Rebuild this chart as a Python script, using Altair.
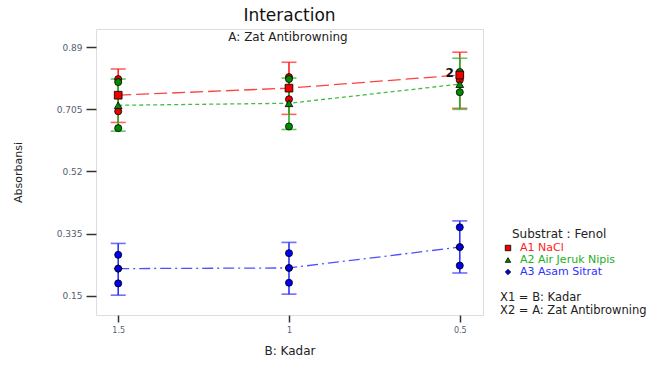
import altair as alt
import pandas as pd

levels = [1.5, 1.0, 0.5]
level_labels = ["1.5", "1", "0.5"]
series = ["A1 NaCl", "A2 Air Jeruk Nipis", "A3 Asam Sitrat"]

nacl_mean = [0.747, 0.768, 0.807]
nacl_lo = [0.666, 0.690, 0.708]
nacl_hi = [0.825, 0.845, 0.875]
nacl_obs = [[0.795, 0.699], [0.801, 0.735], [0.804, 0.792]]

jeruk_mean = [0.717, 0.723, 0.780]
jeruk_lo = [0.640, 0.645, 0.705]
jeruk_hi = [0.795, 0.798, 0.857]
jeruk_obs = [[0.786, 0.649], [0.795, 0.654], [0.816, 0.756]]

asam_mean = [0.231, 0.233, 0.295]
asam_lo = [0.152, 0.155, 0.218]
asam_hi = [0.306, 0.309, 0.373]
asam_obs = [[0.272, 0.231, 0.187], [0.277, 0.233, 0.189], [0.354, 0.295, 0.240]]

y_ticks = [0.15, 0.335, 0.52, 0.705, 0.89]

FONT = "DejaVu Sans"
line_colors = ["#FF2020", "#22B022", "#3030FF"]
fill_colors = ["#EE0000", "#008A00", "#0000EE"]
dashes = [[13, 5], [4, 3], [11, 4, 2, 4]]
mean_shapes = ["square", "triangle-up", "diamond"]

W, H = 387, 286
xs = alt.Scale(domain=[0.432, 1.565], reverse=True, nice=False, zero=False)
ys = alt.Scale(domain=[0.093, 0.944], nice=False, zero=False)

all_means = [nacl_mean, jeruk_mean, asam_mean]
all_lo = [nacl_lo, jeruk_lo, asam_lo]
all_hi = [nacl_hi, jeruk_hi, asam_hi]
all_obs = [nacl_obs, jeruk_obs, asam_obs]

x_axis = alt.Axis(values=levels, labelExpr="datum.value == 1 ? '1' : format(datum.value, '.1f')",
                  title="B: Kadar", titleFont=FONT, titleFontSize=12, titleFontWeight="normal",
                  titleColor="#222222", titlePadding=11, labelFont=FONT, labelFontSize=8,
                  labelColor="#556070", tickSize=7, tickColor="#333333", tickWidth=1.5,
                  domain=False, grid=False, labelPadding=4)
y_axis = alt.Axis(values=y_ticks, labelExpr="datum.value == 0.15 ? '0.15' : datum.value == 0.52 ? '0.52' : datum.value == 0.89 ? '0.89' : format(datum.value, '.3f')",
                  title="Absorbansi", titleFont=FONT, titleFontSize=11, titleFontWeight="normal",
                  titleColor="#222222", titleX=-78, titleY=143, titleAngle=-90,
                  titleAlign="center", titleBaseline="middle",
                  labelFont=FONT, labelFontSize=9, labelColor="#556070",
                  tickSize=10, tickColor="#333333", tickWidth=1.5, domain=False, grid=False,
                  labelPadding=4)

layers = []
# error bars
for i, s in enumerate(series):
    df = pd.DataFrame({"x": levels, "lo": all_lo[i], "hi": all_hi[i]})
    base = alt.Chart(df)
    rule = base.mark_rule(color=line_colors[i], strokeWidth=1.6).encode(
        x=alt.X("x:Q", scale=xs, axis=x_axis), y=alt.Y("lo:Q", scale=ys, axis=y_axis), y2="hi:Q")
    tlo = base.mark_tick(orient="horizontal", color=line_colors[i], size=15, thickness=1.6).encode(
        x=alt.X("x:Q", scale=xs), y=alt.Y("lo:Q", scale=ys))
    thi = base.mark_tick(orient="horizontal", color=line_colors[i], size=15, thickness=1.6).encode(
        x=alt.X("x:Q", scale=xs), y=alt.Y("hi:Q", scale=ys))
    layers += [rule, tlo, thi]

# mean lines
for i, s in enumerate(series):
    df = pd.DataFrame({"x": levels, "m": all_means[i]})
    layers.append(alt.Chart(df).mark_line(color=line_colors[i], strokeWidth=1.3,
                                           strokeDash=dashes[i], opacity=0.85).encode(
        x=alt.X("x:Q", scale=xs), y=alt.Y("m:Q", scale=ys)))

# observations
for i, s in enumerate(series):
    rows = []
    for j, lv in enumerate(levels):
        for v in all_obs[i][j]:
            rows.append({"x": lv, "v": v})
    df = pd.DataFrame(rows)
    layers.append(alt.Chart(df).mark_point(shape="circle", filled=True, size=50,
                                            fill=fill_colors[i], stroke="#000000", strokeWidth=0.8,
                                            opacity=1).encode(
        x=alt.X("x:Q", scale=xs), y=alt.Y("v:Q", scale=ys)))

# mean markers
for i, s in enumerate(series):
    df = pd.DataFrame({"x": levels, "m": all_means[i]})
    layers.append(alt.Chart(df).mark_point(shape=mean_shapes[i], filled=True, size=60,
                                            fill=fill_colors[i], stroke="#000000", strokeWidth=0.8,
                                            opacity=1).encode(
        x=alt.X("x:Q", scale=xs), y=alt.Y("m:Q", scale=ys)))

# "2" coincident label
lab_df = pd.DataFrame({"x": [0.5], "v": [nacl_obs[2][0]], "t": ["2"]})
layers.append(alt.Chart(lab_df).mark_text(font=FONT, fontSize=12, fontWeight="bold",
                                          color="#111111", dx=-10, dy=-3).encode(
    x=alt.X("x:Q", scale=xs), y=alt.Y("v:Q", scale=ys), text="t:N"))

# subtitle inside plot
sub_df = pd.DataFrame({"t": ["A: Zat Antibrowning"]})
layers.append(alt.Chart(sub_df).mark_text(font=FONT, fontSize=12, color="#222222",
                                          baseline="middle").encode(
    x=alt.value(192), y=alt.value(8), text="t:N"))

# legend (manual)
leg_title = pd.DataFrame({"t": ["Substrat : Fenol"]})
layers.append(alt.Chart(leg_title).mark_text(font=FONT, fontSize=12, color="#222222",
                                             align="left", baseline="middle").encode(
    x=alt.value(416), y=alt.value(205), text="t:N"))
leg_y = [219, 231, 243]
for i, s in enumerate(series):
    d = pd.DataFrame({"t": [s]})
    layers.append(alt.Chart(d).mark_point(shape=mean_shapes[i], filled=True, size=30,
                                          fill=fill_colors[i], stroke="#000000", strokeWidth=0.8,
                                          opacity=1).encode(
        x=alt.value(412), y=alt.value(leg_y[i])))
    layers.append(alt.Chart(d).mark_text(font=FONT, fontSize=11, color=line_colors[i],
                                         align="left", baseline="middle").encode(
        x=alt.value(424), y=alt.value(leg_y[i]), text="t:N"))
notes = pd.DataFrame({"t": ["X1 = B: Kadar", "X2 = A: Zat Antibrowning"], "y": [269, 282]})
layers.append(alt.Chart(notes).mark_text(font=FONT, fontSize=11.5, color="#222222",
                                         align="left", baseline="middle").encode(
    x=alt.value(404), y=alt.Y("y:Q", scale=None), text="t:N"))

chart = alt.layer(*layers).properties(
    width=W, height=H,
    title=alt.TitleParams("Interaction", font=FONT, fontSize=17, fontWeight="normal",
                          color="#111111", anchor="middle", offset=4),
    padding={"left": 96, "top": 29, "right": 179, "bottom": 61},
    autosize=alt.AutoSizeParams(type="none"),
).configure_view(stroke="#333333", strokeWidth=1.5).configure(background="white")

chart.save("out.html", embed_options={"renderer": "svg", "actions": False})
